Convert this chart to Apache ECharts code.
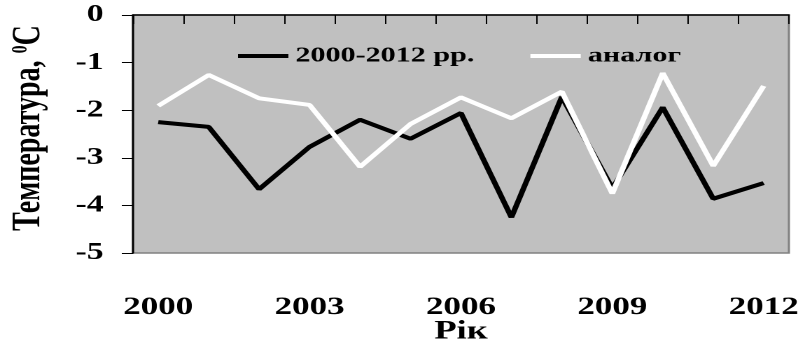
<!DOCTYPE html>
<html>
<head>
<meta charset="utf-8">
<script src="https://cdn.jsdelivr.net/npm/echarts@6/dist/echarts.min.js"></script>
<style>
  html, body { margin: 0; padding: 0; background: #fff; overflow: hidden; }
  /* the chart is laid out narrower and widened horizontally, giving the wide serif lettering */
  #chart { width: 580px; height: 351px; transform: scaleX(1.4); transform-origin: 0 0; }
</style>
</head>
<body>
<div id="chart"></div>
<script>
// Annual values, °C
const years = ['2000', '2001', '2002', '2003', '2004', '2005', '2006',
               '2007', '2008', '2009', '2010', '2011', '2012'];
const observed = [-2.25, -2.35, -3.66, -2.77, -2.2, -2.6, -2.06,
                  -4.25, -1.72, -3.64, -1.94, -3.86, -3.53];
const analog = [-1.91, -1.26, -1.75, -1.89, -3.19, -2.29, -1.73,
                -2.17, -1.61, -3.75, -1.22, -3.17, -1.49];
const seriesNames = ['2000-2012 рр.', 'аналог'];

const FONT = '"Liberation Serif", "Times New Roman", serif';

const chart = echarts.init(document.getElementById('chart'), null, { devicePixelRatio: 2 });
chart.setOption({
  animation: false,
  textStyle: { fontFamily: FONT, fontWeight: 'bold', color: '#000' },
  grid: {
    left: 95, right: 16.5, top: 15, bottom: 98,
    outerBoundsMode: 'none',
    show: true, backgroundColor: '#c0c0c0',
    borderColor: '#808080', borderWidth: 1.5
  },
  legend: {
    left: 165, top: 40,
    itemWidth: 36, itemHeight: 4, itemGap: 40,
    icon: 'rect',
    textStyle: { fontFamily: FONT, fontWeight: 'bold', fontSize: 21.5, color: '#000' },
    data: seriesNames
  },
  xAxis: {
    type: 'category',
    data: years,
    boundaryGap: true,
    name: 'Рік',
    nameLocation: 'middle',
    nameGap: 66,
    nameMoveOverlap: false,
    nameTextStyle: { fontFamily: FONT, fontWeight: 'bold', fontSize: 26, color: '#000' },
    axisLine: { lineStyle: { color: '#000', width: 1.5 } },
    axisTick: { show: true, interval: 0, length: 9, lineStyle: { color: '#000', width: 1 } },
    axisLabel: { interval: 2, margin: 42, fontFamily: FONT, fontWeight: 'bold', fontSize: 25, color: '#000' },
    splitLine: { show: false }
  },
  yAxis: {
    type: 'value',
    min: -5, max: 0, interval: 1,
    name: '{t|Температура, }{s|0}{t|C}',
    nameLocation: 'middle',
    nameGap: 60,
    nameMoveOverlap: false,
    nameTextStyle: {
      padding: [0, 0, 0, 12],
      rich: {
        t: { fontFamily: FONT, fontWeight: 'bold', fontSize: 28, color: '#000' },
        s: { fontFamily: FONT, fontWeight: 'bold', fontSize: 16, color: '#000', verticalAlign: 'top' }
      }
    },
    axisLine: { show: true, lineStyle: { color: '#000', width: 1.5 } },
    axisTick: { show: true, length: 8, lineStyle: { color: '#000', width: 1 } },
    axisLabel: { margin: 21, fontFamily: FONT, fontWeight: 'bold', fontSize: 24, color: '#000' },
    splitLine: { show: false }
  },
  series: [
    {
      name: seriesNames[0], type: 'line', data: observed,
      symbol: 'none', color: '#000',
      lineStyle: { color: '#000', width: 4 }
    },
    {
      name: seriesNames[1], type: 'line', data: analog,
      symbol: 'none', color: '#fff',
      lineStyle: { color: '#fff', width: 4 }
    }
  ]
});
</script>
</body>
</html>
